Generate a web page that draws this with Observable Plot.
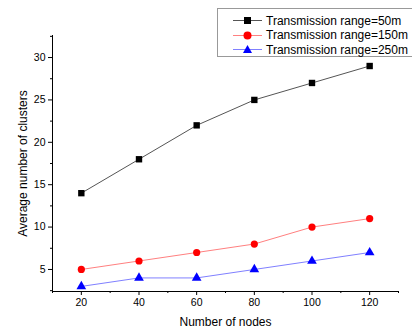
<!DOCTYPE html>
<html><head><meta charset="utf-8">
<script src="https://cdn.jsdelivr.net/npm/d3@7"></script>
<script src="https://cdn.jsdelivr.net/npm/@observablehq/plot@0.6"></script>
<style>
body{margin:0;background:#fff;font-family:"Liberation Sans",Arial,sans-serif;}
#wrap{position:relative;width:412px;height:331px;}
#legend{position:absolute;left:217px;top:8px;width:200px;height:49px;border:1px solid #999;background:#fff;box-sizing:border-box;font-size:12px;}
#legend .row{position:absolute;left:0;height:14px;display:flex;align-items:center;}
#legend svg{display:block}
</style></head>
<body><div id="wrap"><div id="legend"></div></div>
<script>
const nodes = [20, 40, 60, 80, 100, 120];
const range50 = [14, 18, 22, 25, 27, 29];
const range150 = [5, 6, 7, 8, 10, 11];
const range250 = [3, 4, 4, 5, 6, 7];
const seriesNames = ["Transmission range=50m", "Transmission range=150m", "Transmission range=250m"];
const seriesColors = ["#000000", "#ff0000", "#0000ff"];
const lineColors = ["#555555", "#ff8080", "#8080ff"];
const seriesSymbols = ["square", "circle", "triangle"];
const xTicks = [20, 40, 60, 80, 100, 120];
const xMinor = [10, 30, 50, 70, 90, 110, 130];
const yTicks = [5, 10, 15, 20, 25, 30];
const yMinor = [2.5, 7.5, 12.5, 17.5, 22.5, 27.5, 32.5];
const xDomain = [10, 130];
const yDomain = [2.4, 32.6];

const allSeries = [range50, range150, range250];
const data = [];
allSeries.forEach((vals, i) => vals.forEach((v, j) => data.push({x: nodes[j], y: v, s: seriesNames[i]})));

const plot = Plot.plot({
  width: 412, height: 331,
  marginLeft: 52, marginRight: 14, marginTop: 35, marginBottom: 40,
  style: {fontFamily: "Liberation Sans, Arial, sans-serif", fontSize: "10.5px", color: "#000", background: "#fff"},
  x: {domain: xDomain},
  y: {domain: yDomain},
  color: {domain: seriesNames, range: seriesColors},
  symbol: {domain: seriesNames, range: seriesSymbols},
  marks: [
    Plot.axisX(xTicks, {tickSize: 4, tickPadding: 3, label: null}),
    Plot.axisX(xMinor, {tickSize: 2, text: null, label: null}),
    Plot.axisX({ticks: [], label: "Number of nodes", labelAnchor: "center", labelArrow: "none", labelOffset: 34, fontSize: 12}),
    Plot.axisY(yTicks, {tickSize: 4, tickPadding: 3, label: null}),
    Plot.axisY(yMinor, {tickSize: 2, text: null, label: null}),
    Plot.axisY({ticks: [], label: "Average number of clusters", labelAnchor: "center", labelArrow: "none", labelOffset: 34, fontSize: 12}),
    Plot.ruleX([xDomain[0]], {stroke: "#000", strokeWidth: 1}),
    Plot.ruleY([yDomain[0]], {stroke: "#000", strokeWidth: 1}),
    ...seriesNames.map((name, i) => Plot.line(data.filter(d => d.s === name), {x: "x", y: "y", stroke: lineColors[i], strokeWidth: 1})),
    Plot.dot(data, {x: "x", y: "y", symbol: "s", fill: "s", stroke: "none", r: 3.6})
  ]
});
document.getElementById("wrap").prepend(plot);

const leg = document.getElementById("legend");
const symPaths = [
  '<rect x="11" y="3" width="7" height="7" fill="#000"/>',
  '<circle cx="14.5" cy="6.5" r="4" fill="#ff0000"/>',
  '<path d="M14.5,2 L19,10 L10,10 Z" fill="#0000ff"/>'
];
seriesNames.forEach((name, i) => {
  const row = document.createElement("div");
  row.className = "row";
  row.style.top = (4.5 + i * 14.6) + "px";
  row.style.left = "15px";
  row.innerHTML = `<svg width="31" height="13"><line x1="0" x2="29" y1="6.5" y2="6.5" stroke="${lineColors[i]}" stroke-width="1"/>${symPaths[i]}</svg><span style="margin-left:2px">${name}</span>`;
  leg.appendChild(row);
});
</script>
</body></html>
